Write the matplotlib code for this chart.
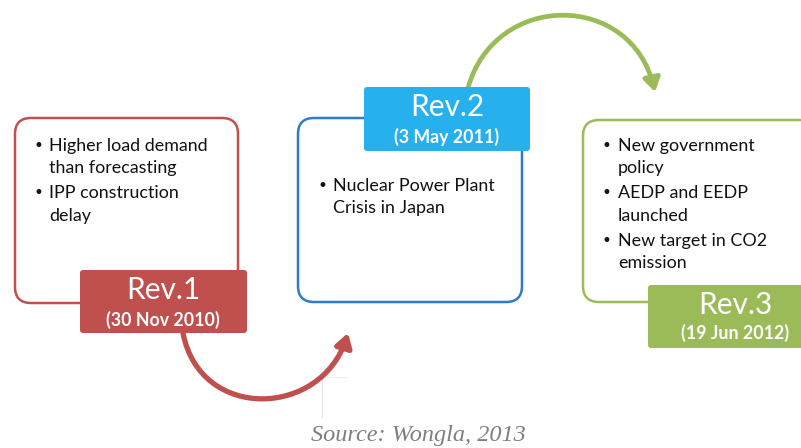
import matplotlib
matplotlib.use("Agg")
import matplotlib.pyplot as plt
from matplotlib.patches import FancyBboxPatch, FancyArrowPatch
from matplotlib.path import Path

# ---- content ----
rev_titles = ["Rev.1", "Rev.2", "Rev.3"]
rev_dates = ["(30 Nov 2010)", "(3 May 2011)", "(19 Jun 2012)"]
rev_bullets = [
    ["Higher load demand\nthan forecasting", "IPP construction\ndelay"],
    ["Nuclear Power Plant\nCrisis in Japan"],
    ["New government\npolicy", "AEDP and EEDP\nlaunched", "New target in CO2\nemission"],
]
source_text = "Source: Wongla, 2013"

colors = ["#C0504D", "#2E7BCB", "#9BBB59"]
label_fill = ["#C0504D", "#27B0EE", "#9BBB59"]

# layout (pixel coords)
outline_boxes = [(15, 118, 238, 303), (298, 118, 522, 302), (583, 120, 815, 302)]
label_boxes = [(80, 270, 247, 333), (364, 87, 530, 151), (648, 285, 815, 348)]
title_pos = [(163, 290), (447, 107), (735, 305)]
date_pos = [(163, 320), (447, 137), (735, 333)]
bullet_start = [(33, 49, 146), (318, 333, 186), (601, 618, 146)]
line_h = 22.5

fig = plt.figure(figsize=(8.01, 4.48), dpi=100)
ax = fig.add_axes([0, 0, 1, 1])
ax.set_xlim(0, 801)
ax.set_ylim(448, 0)
ax.axis("off")

FONT = "Lato"

for i in range(3):
    x0, y0, x1, y1 = outline_boxes[i]
    ax.add_patch(FancyBboxPatch((x0, y0), x1 - x0, y1 - y0,
                                boxstyle="round,pad=0,rounding_size=16",
                                fc="white", ec=colors[i], lw=1.8, zorder=2))
    lx0, ly0, lx1, ly1 = label_boxes[i]
    ax.add_patch(FancyBboxPatch((lx0, ly0), lx1 - lx0, ly1 - ly0,
                                boxstyle="round,pad=0,rounding_size=3",
                                fc=label_fill[i], ec="none", zorder=4))
    ax.text(*title_pos[i], rev_titles[i], color="white", fontsize=21.5,
            family=FONT, ha="center", va="center", zorder=5)
    ax.text(*date_pos[i], rev_dates[i], color="white", fontsize=12.8,
            family=FONT, fontweight="bold", ha="center", va="center", zorder=5)
    bx, tx, ty = bullet_start[i]
    y = ty
    for b in rev_bullets[i]:
        lines = b.split("\n")
        ax.text(bx, y, "\u2022", fontsize=12, family="DejaVu Sans",
                ha="left", va="center", color="#111111", zorder=5)
        for ln in lines:
            ax.text(tx, y, ln, fontsize=12.9, family=FONT, ha="left",
                    va="center", color="#111111", zorder=5)
            y += line_h
        y += 2.5

# arrows
red_path = Path([(183, 333), (200, 422), (322, 418), (348, 333)],
                [Path.MOVETO, Path.CURVE4, Path.CURVE4, Path.CURVE4])
ax.add_patch(FancyArrowPatch(path=red_path, arrowstyle="-|>,head_length=8,head_width=5",
                             color=colors[0], lw=3.8, zorder=3))
green_path = Path([(468, 88), (495, -9), (632, -9), (655, 92)],
                  [Path.MOVETO, Path.CURVE4, Path.CURVE4, Path.CURVE4])
ax.add_patch(FancyArrowPatch(path=green_path, arrowstyle="-|>,head_length=8,head_width=5",
                             color=colors[2], lw=3.4, zorder=3))

# faint guide lines
ax.plot([322, 322], [377, 417], color="#e6e6e6", lw=0.8, zorder=1)
ax.plot([322, 347], [377, 377], color="#eeeeee", lw=0.8, zorder=1)

ax.text(418, 436, source_text, fontsize=17.5, family="Liberation Serif",
        style="italic", color="#7f7f7f", ha="center", va="center")

fig.savefig("out.png", dpi=100)
